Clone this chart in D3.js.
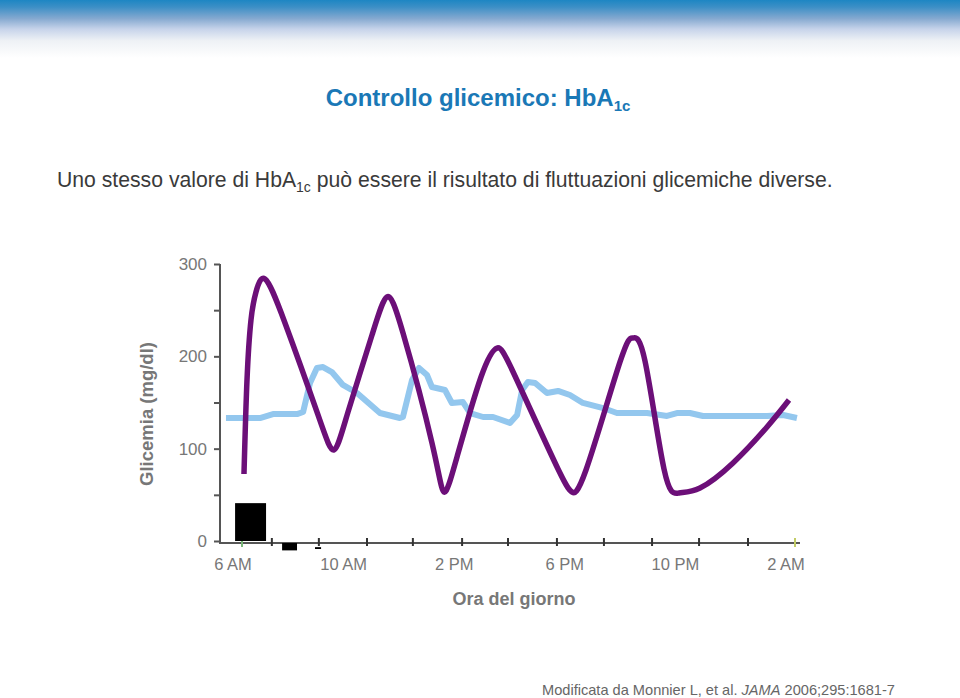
<!DOCTYPE html>
<html><head><meta charset="utf-8">
<script src="https://cdn.jsdelivr.net/npm/d3@7"></script>
<style>
html,body{margin:0;padding:0;background:#fff;}
svg{display:block;font-family:"Liberation Sans",Arial,sans-serif;}
</style></head>
<body>
<svg id="c" width="960" height="698"></svg>
<script>
// ---- data (hours since midnight; 26 = 2 AM next day) ----
const xLabelHours = [6, 10, 14, 18, 22, 26];
const xLabels = ["6 AM", "10 AM", "2 PM", "6 PM", "10 PM", "2 AM"];
const xMinorTicks = [7.08, 8.78, 10.52, 12.18, 13.96, 15.62, 17.39, 19.09, 20.83, 22.53, 24.30];
const xEndTicks = [6, 26];
const yTicks = [0, 50, 100, 150, 200, 250, 300];
const yLabelTicks = [0, 100, 200, 300];

const fluctHours = [6.072,6.181,6.325,6.506,6.832,7.555,8.749,9.327,9.834,10.702,11.244,11.823,12.872,13.306,13.776,14.644,15.222,15.873,17.429,17.935,18.441,19.671,20.141,20.575,21.262,21.805,22.564,23.758,24.988,25.783];
const fluctValues = [72.6,174.4,239.4,269.7,283.8,236.1,136.5,98.6,139.7,223.1,264.3,225.3,106.1,53.1,91.0,177.6,209.0,178.7,78.0,53.1,76.9,193.9,219.9,194.9,78.0,52.0,57.4,84.5,123.5,152.7];

const stableHours = [5.42,6.65,7.12,7.99,8.21,8.46,8.71,8.93,9.25,9.65,10.16,10.99,11.71,11.82,12.15,12.40,12.69,12.87,13.34,13.59,13.99,14.25,14.72,15.08,15.69,15.95,16.13,16.34,16.60,17.03,17.43,17.86,18.33,19.06,19.56,20.65,21.37,21.73,22.20,22.67,24.99,25.57,26.07];
const stableValues = [133.2,133.2,137.5,137.5,139.7,171.1,187.4,188.4,183,169,160.3,138.6,133.2,134.3,174.4,187.4,179.8,166.8,163.5,149.5,150.5,138.6,134.3,134.3,127.8,136.5,163.5,172.2,171.1,160.3,162.5,158.1,149.5,144,138.6,138.6,135.4,138.6,138.6,135.4,135.4,136.5,133.2];

const barStart = [5.75, 7.45, 8.64];
const barEnd = [6.87, 7.99, 8.86];
const barLow = [0, -8, -4.5];
const barHigh = [41, 0, -6.5];

// ---- drawing ----
const svg = d3.select("#c");
const W = 960;

// top gradient band
const defs = svg.append("defs");
const g = defs.append("linearGradient").attr("id","topgrad").attr("x1",0).attr("y1",0).attr("x2",0).attr("y2",1);
[[0,"#1d86c3"],[0.12,"#3c8fc6"],[0.32,"#85a9d0"],[0.5,"#c6d3ea"],[0.7,"#eef1f5"],[1,"#ffffff"]]
  .forEach(s => g.append("stop").attr("offset",s[0]).attr("stop-color",s[1]));
svg.append("rect").attr("x",0).attr("y",0).attr("width",W).attr("height",58).attr("fill","url(#topgrad)");

// title
const title = svg.append("text").attr("x",478).attr("y",106).attr("text-anchor","middle")
  .attr("fill","#1a78b6").attr("font-weight","bold").attr("font-size",24);
title.append("tspan").text("Controllo glicemico: HbA");
title.append("tspan").attr("font-size",15).attr("dy",5).text("1c");

// subtitle
const sub = svg.append("text").attr("x",57).attr("y",187).attr("fill","#3a3a3a").attr("font-size",21.2);
sub.append("tspan").text("Uno stesso valore di HbA");
sub.append("tspan").attr("font-size",14).attr("dy",5).text("1c");
sub.append("tspan").attr("dy",-5).text(" può essere il risultato di fluttuazioni glicemiche diverse.");

// scales
const x = d3.scaleLinear().domain([6, 26]).range([242, 795]);
const y = d3.scaleLinear().domain([0, 300]).range([541, 264]);

const axisColor = "#555";
// y axis
const yAxis = svg.append("g").attr("transform","translate(220,0)")
  .call(d3.axisLeft(y).tickValues(yTicks).tickSize(6).tickSizeOuter(0)
    .tickFormat(d => yLabelTicks.includes(d) ? d : ""));
yAxis.select(".domain").attr("stroke",axisColor).attr("stroke-width",2).attr("d","M0,"+y(300)+"V"+(y(0)+3));
yAxis.selectAll(".tick line").attr("stroke",axisColor).attr("stroke-width",2);
yAxis.selectAll(".tick text").attr("fill","#777").attr("font-size",17).attr("x",-13)
  .attr("font-family","Liberation Sans, Arial, sans-serif");

// x axis line and ticks
const axY = y(0) + 2;
svg.append("line").attr("x1",220).attr("x2",800).attr("y1",axY).attr("y2",axY)
  .attr("stroke",axisColor).attr("stroke-width",2);
svg.selectAll(".xminor").data(xMinorTicks).enter().append("line")
  .attr("x1",d=>x(d)).attr("x2",d=>x(d)).attr("y1",axY-5).attr("y2",axY+3)
  .attr("stroke","#333").attr("stroke-width",2);
svg.selectAll(".xend").data(xEndTicks).enter().append("line")
  .attr("x1",d=>x(d)).attr("x2",d=>x(d)).attr("y1",axY-5).attr("y2",axY+4)
  .attr("stroke",(d,i)=> i===0 ? "#7bb87a" : "#c2cc66").attr("stroke-width",2);
svg.selectAll(".xlab").data(xLabelHours).enter().append("text")
  .attr("x",d=>x(d)-9).attr("y",570).attr("text-anchor","middle")
  .attr("fill","#777").attr("font-size",16.5).text((d,i)=>xLabels[i]);

// axis titles
svg.append("text").attr("transform","translate(153,414) rotate(-90)").attr("text-anchor","middle")
  .attr("fill","#777").attr("font-weight","bold").attr("font-size",18.5).text("Glicemia (mg/dl)");
svg.append("text").attr("x",514).attr("y",605).attr("text-anchor","middle")
  .attr("fill","#777").attr("font-weight","bold").attr("font-size",18).text("Ora del giorno");

// bars
svg.selectAll(".bar").data(barStart).enter().append("rect")
  .attr("x",(d,i)=>x(barStart[i]))
  .attr("width",(d,i)=>x(barEnd[i])-x(barStart[i]))
  .attr("y",(d,i)=>Math.min(y(barLow[i]),y(barHigh[i])) + (barLow[i] < 0 || barHigh[i] < 0 ? 2 : 0))
  .attr("height",(d,i)=>Math.abs(y(barLow[i])-y(barHigh[i])))
  .attr("fill","#000");

// stable line
const stable = stableHours.map((h,i)=>[h, stableValues[i]]);
svg.append("path").datum(stable)
  .attr("d", d3.line().x(d=>x(d[0])).y(d=>y(d[1])).curve(d3.curveLinear))
  .attr("fill","none").attr("stroke","#93c7ee").attr("stroke-width",6)
  .attr("stroke-linejoin","round");

// fluctuating line
const fluct = fluctHours.map((h,i)=>[h, fluctValues[i]]);
svg.append("path").datum(fluct)
  .attr("d", d3.line().x(d=>x(d[0])).y(d=>y(d[1])).curve(d3.curveNatural))
  .attr("fill","none").attr("stroke","#6c0f78").attr("stroke-width",5.5)
  .attr("stroke-linejoin","round");

// footer
const foot = svg.append("text").attr("x",542).attr("y",695).attr("fill","#666").attr("font-size",14.6);
foot.append("tspan").text("Modificata da Monnier L, et al. ");
foot.append("tspan").attr("font-style","italic").text("JAMA");
foot.append("tspan").text(" 2006;295:1681-7");
</script>
</body></html>
